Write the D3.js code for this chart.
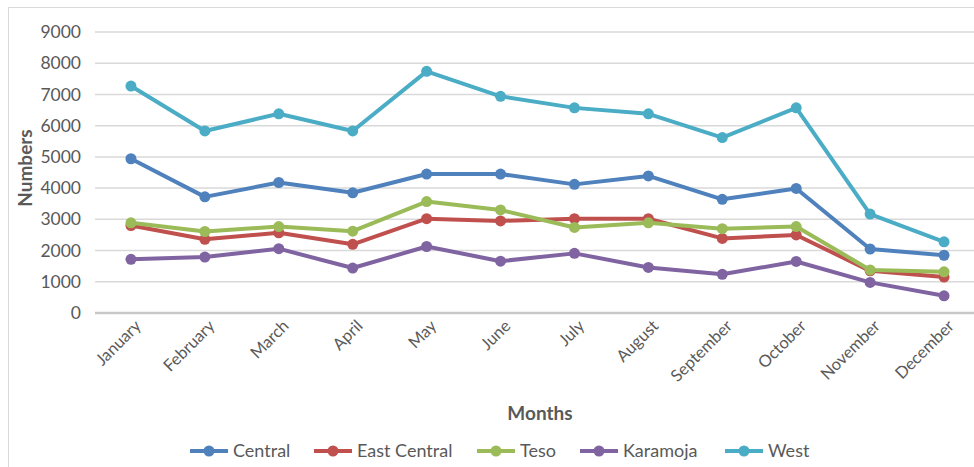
<!DOCTYPE html>
<html>
<head>
<meta charset="utf-8">
<script src="https://cdn.jsdelivr.net/npm/d3@7"></script>
<style>
  body { margin: 0; background: #fff; }
  svg { display: block; font-family: Lato, "Open Sans", sans-serif; }
</style>
</head>
<body>
<div id="chart"></div>
<script>
// months on the x axis
var months = ["January", "February", "March", "April", "May", "June", "July",
              "August", "September", "October", "November", "December"];

// numbers per region
var central     = [4940, 3720, 4180, 3850, 4450, 4450, 4120, 4390, 3640, 3990, 2050, 1850];
var eastCentral = [2800, 2360, 2570, 2200, 3020, 2950, 3020, 3020, 2390, 2500, 1350, 1150];
var teso        = [2890, 2610, 2770, 2620, 3570, 3300, 2740, 2890, 2700, 2770, 1380, 1320];
var karamoja    = [1720, 1790, 2060, 1440, 2130, 1660, 1910, 1460, 1240, 1650,  980,  550];
var west        = [7270, 5830, 6380, 5830, 7740, 6940, 6570, 6380, 5620, 6570, 3170, 2280];

var yTicks = [0, 1000, 2000, 3000, 4000, 5000, 6000, 7000, 8000, 9000];

var series = [
    { name: "Central",      values: central,     color: "#4F81BD" },
    { name: "East Central", values: eastCentral, color: "#C0504D" },
    { name: "Teso",         values: teso,        color: "#9BBB59" },
    { name: "Karamoja",     values: karamoja,    color: "#8064A2" },
    { name: "West",         values: west,        color: "#4BACC6" }
];

var width = 974, height = 467;

var svg = d3.select("#chart").append("svg")
    .attr("width", width)
    .attr("height", height);

// chart area border
svg.append("rect")
    .attr("x", 8.5).attr("y", 7.5)
    .attr("width", 1000).attr("height", 500)
    .attr("fill", "none")
    .attr("stroke", "#d9d9d9");

var x = d3.scaleBand().domain(months).range([94, 981]);
var y = d3.scaleLinear().domain([0, 9000]).range([313, 32]);

// gridlines
svg.append("g")
    .selectAll("line")
    .data(yTicks.filter(function (d) { return d > 0; }))
    .enter().append("line")
    .attr("x1", 95).attr("x2", 981)
    .attr("y1", function (d) { return y(d); })
    .attr("y2", function (d) { return y(d); })
    .attr("stroke", "#d9d9d9")
    .attr("stroke-width", 1.5);

// y axis labels
var yAxis = svg.append("g")
    .attr("transform", "translate(81,0)")
    .call(d3.axisLeft(y).tickValues(yTicks).tickFormat(d3.format("d")).tickSize(0).tickPadding(0));
yAxis.select(".domain").remove();
yAxis.selectAll("text")
    .attr("fill", "#595959")
    .style("font-size", "17.5px")
    .style("font-family", "Lato, sans-serif");

// x axis line
svg.append("line")
    .attr("x1", 95).attr("x2", 981)
    .attr("y1", y(0)).attr("y2", y(0))
    .attr("stroke", "#c8c8c8")
    .attr("stroke-width", 2.5);

// x axis labels, rotated
var xAxis = svg.append("g")
    .attr("transform", "translate(0," + y(0) + ")")
    .call(d3.axisBottom(x).tickSize(0).tickPadding(0));
xAxis.select(".domain").remove();
xAxis.selectAll("text")
    .attr("fill", "#595959")
    .style("font-size", "16.5px")
    .style("font-family", "Lato, sans-serif")
    .attr("text-anchor", "end")
    .attr("dy", null)
    .attr("y", 0)
    .attr("transform", "translate(11,14) rotate(-45)");

// axis titles
svg.append("text")
    .attr("transform", "translate(32,168) rotate(-90)")
    .attr("text-anchor", "middle")
    .attr("fill", "#595959")
    .style("font-size", "19px")
    .style("font-weight", "bold")
    .text("Numbers");

svg.append("text")
    .attr("x", 540).attr("y", 420)
    .attr("text-anchor", "middle")
    .attr("fill", "#595959")
    .style("font-size", "19px")
    .style("font-weight", "bold")
    .text("Months");

// lines and markers
var line = d3.line()
    .x(function (d, i) { return x(months[i]) + x.bandwidth() / 2; })
    .y(function (d) { return y(d); });

var lines = svg.append("g");
series.forEach(function (s) {
    var g = lines.append("g");
    g.append("path")
        .datum(s.values)
        .attr("d", line)
        .attr("fill", "none")
        .attr("stroke", s.color)
        .attr("stroke-width", 4)
        .attr("stroke-linejoin", "round");
    g.selectAll("circle")
        .data(s.values)
        .enter().append("circle")
        .attr("cx", function (d, i) { return x(months[i]) + x.bandwidth() / 2; })
        .attr("cy", function (d) { return y(d); })
        .attr("r", 5.5)
        .attr("fill", s.color);
});

// legend
var legendX = [190, 314, 477, 580, 725];
var legend = svg.append("g").selectAll("g")
    .data(series)
    .enter().append("g")
    .attr("transform", function (d, i) { return "translate(" + legendX[i] + ",451)"; });
legend.append("line")
    .attr("x1", 0).attr("x2", 38)
    .attr("stroke", function (d) { return d.color; })
    .attr("stroke-width", 4);
legend.append("circle")
    .attr("cx", 19).attr("r", 5.5)
    .attr("fill", function (d) { return d.color; });
legend.append("text")
    .attr("x", 43).attr("dy", "0.35em")
    .attr("fill", "#595959")
    .style("font-size", "18px")
    .text(function (d) { return d.name; });
</script>
</body>
</html>
